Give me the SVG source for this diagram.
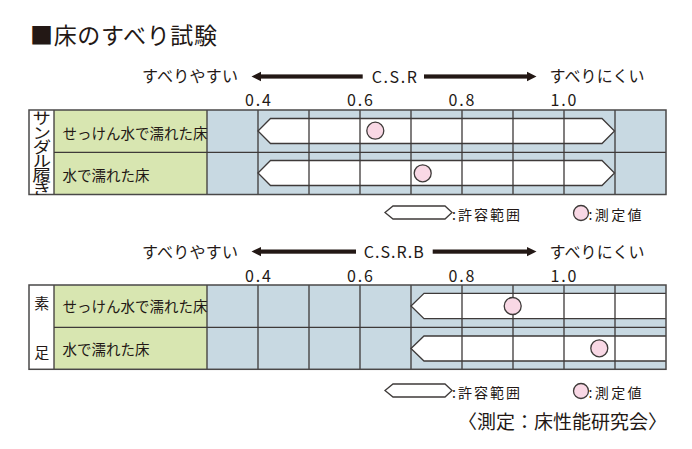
<svg xmlns="http://www.w3.org/2000/svg" width="692" height="449" viewBox="0 0 692 449">
<style>
text{font-family:"Noto Sans CJK JP","Noto Sans",sans-serif;fill:#231815}
.hd{font-size:16px}
.lb{font-size:14.5px}
.tk{font-size:16px}
.lg{font-size:14px}
.blue{fill:#c8d9e2}
.green{fill:#d8e6b1}
.white{fill:#ffffff}
.ln{stroke:#3e3a39;stroke-width:1.3;fill:none}
.brd{stroke:#4a4848;stroke-width:1.5;fill:none}
.band{fill:#ffffff;stroke:#3e3a39;stroke-width:1.3}
.dot{fill:#f9d8e5;stroke:#3e3a39;stroke-width:1.3}
.arr{fill:#231815}
</style>
<defs>
<clipPath id="c1"><rect x="29" y="110" width="25" height="85"/></clipPath>
</defs>

<g id="title">
<text x="30" y="44" style="font-size:23px" textLength="187">■床のすべり試験</text>
</g>

<!-- Chart 1 -->
<g id="chart1-header">
<text class="hd" x="142" y="82" textLength="96">すべりやすい</text>
<polygon class="arr" points="251.5,76.5 261,71.8 261,81.2"/>
<rect class="arr" x="260" y="74.4" width="102.7" height="4.2"/>
<text class="hd" x="394.3" y="83" text-anchor="middle" textLength="45">C.S.R</text>
<rect class="arr" x="424" y="74.4" width="104" height="4.2"/>
<polygon class="arr" points="536.5,76.5 527,71.8 527,81.2"/>
<text class="hd" x="549.5" y="82" textLength="95">すべりにくい</text>
<text class="tk" x="258" y="106" text-anchor="middle" textLength="26">0.4</text>
<text class="tk" x="360" y="106" text-anchor="middle" textLength="26">0.6</text>
<text class="tk" x="461.5" y="106" text-anchor="middle" textLength="26">0.8</text>
<text class="tk" x="563.5" y="106" text-anchor="middle" textLength="26">1.0</text>
</g>

<g id="chart1">
<rect class="white" x="29" y="110" width="25" height="84.5"/>
<rect class="green" x="54" y="110" width="153" height="84.5"/>
<rect class="blue" x="207" y="110" width="459" height="84.5"/>
<polygon class="band" points="258,131 270.5,118.5 602,118.5 614.5,131 602,143.5 270.5,143.5"/>
<polygon class="band" points="258,173 270.5,160.5 602,160.5 614.5,173 602,185.5 270.5,185.5"/>
<path class="ln" d="M54,152.3H666M54,110V194.5M207,110V194.5M258,110V194.5M309,110V194.5M360,110V194.5M411,110V194.5M462,110V194.5M513,110V194.5M564,110V194.5M615,110V194.5"/>
<rect class="brd" x="29" y="110" width="637" height="84.5"/>
<g clip-path="url(#c1)">
<text transform="translate(41.7,110.3) scale(1.18,1)" style="writing-mode:vertical-rl;font-size:16px;letter-spacing:-1.8px">サンダル履き</text>
</g>
<text class="lb" x="62.5" y="139" textLength="145">せっけん水で濡れた床</text>
<text class="lb" x="62.5" y="181" textLength="87">水で濡れた床</text>
<circle class="dot" cx="375.3" cy="130.7" r="8.5"/>
<circle class="dot" cx="422.7" cy="173.3" r="8.5"/>
</g>

<g id="legend1">
<polygon class="band" points="385,212.5 393,206 445,206 452,212.5 445,219 393,219"/>
<text class="lg" x="452" y="219.5" textLength="68">:許容範囲</text>
<circle class="dot" cx="581" cy="213" r="7.5"/>
<text class="lg" x="588.5" y="219.5" textLength="53">:測定値</text>
</g>

<!-- Chart 2 -->
<g id="chart2-header">
<text class="hd" x="142" y="257.5" textLength="96">すべりやすい</text>
<polygon class="arr" points="251.5,251.6 261,246.9 261,256.3"/>
<rect class="arr" x="260" y="249.5" width="96" height="4.2"/>
<text class="hd" x="393.8" y="258.3" text-anchor="middle" textLength="60">C.S.R.B</text>
<rect class="arr" x="432.7" y="249.5" width="95.3" height="4.2"/>
<polygon class="arr" points="536.5,251.6 527,246.9 527,256.3"/>
<text class="hd" x="549.5" y="257.5" textLength="95">すべりにくい</text>
<text class="tk" x="258" y="281.7" text-anchor="middle" textLength="26">0.4</text>
<text class="tk" x="360" y="281.7" text-anchor="middle" textLength="26">0.6</text>
<text class="tk" x="461.5" y="281.7" text-anchor="middle" textLength="26">0.8</text>
<text class="tk" x="563.5" y="281.7" text-anchor="middle" textLength="26">1.0</text>
</g>

<g id="chart2">
<rect class="white" x="29" y="285" width="25" height="84.3"/>
<rect class="green" x="54" y="285" width="153" height="84.3"/>
<rect class="blue" x="207" y="285" width="459" height="84.3"/>
<path class="band" d="M666,293.3H424L411,306L424,318.7H666"/>
<path class="band" d="M666,336H424L411,348.5L424,361H666"/>
<path class="ln" d="M54,327.3H666M54,285V369.3M207,285V369.3M258,285V369.3M309,285V369.3M360,285V369.3M411,285V369.3M462,285V369.3M513,285V369.3M564,285V369.3M615,285V369.3"/>
<rect class="brd" x="29" y="285" width="637" height="84.3"/>
<text x="41.7" y="309" text-anchor="middle" style="font-size:15px">素</text>
<text x="41.7" y="357.5" text-anchor="middle" style="font-size:15px">足</text>
<text class="lb" x="62.5" y="312" textLength="145">せっけん水で濡れた床</text>
<text class="lb" x="62.5" y="355" textLength="87">水で濡れた床</text>
<circle class="dot" cx="512.7" cy="306" r="8.5"/>
<circle class="dot" cx="599.3" cy="348.3" r="8.5"/>
</g>

<g id="legend2">
<polygon class="band" points="385,390.5 393,384 445,384 452,390.5 445,397 393,397"/>
<text class="lg" x="452" y="397.5" textLength="68">:許容範囲</text>
<circle class="dot" cx="581" cy="391" r="7.5"/>
<text class="lg" x="588.5" y="397.5" textLength="53">:測定値</text>
</g>

<g id="footer">
<text x="458" y="429" style="font-size:19px" textLength="209">〈測定：床性能研究会〉</text>
</g>
</svg>
